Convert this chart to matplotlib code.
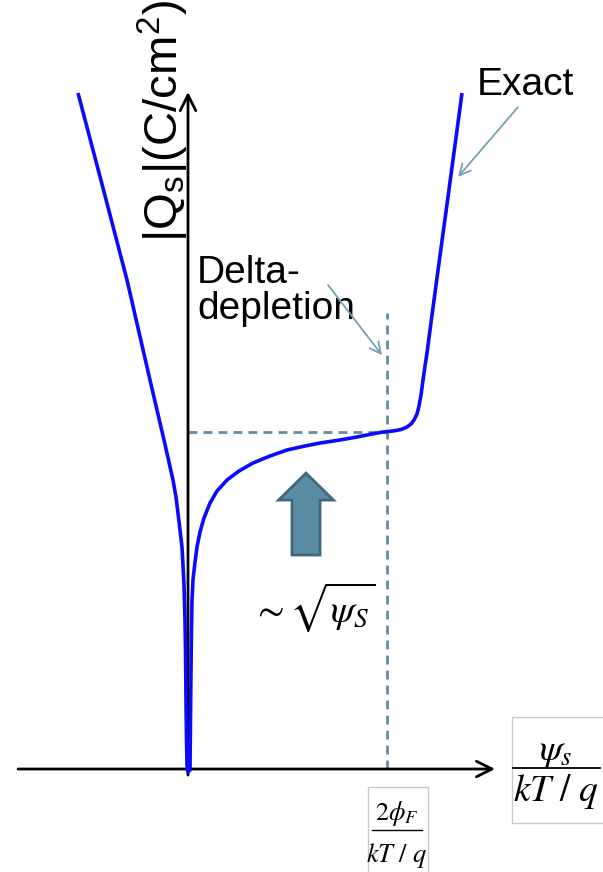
import matplotlib
matplotlib.use("Agg")
import matplotlib.pyplot as plt
from matplotlib.patches import FancyArrow, Rectangle

plt.rcParams['font.family'] = ['Liberation Sans', 'DejaVu Sans']
plt.rcParams['mathtext.fontset'] = 'stix'

# Surface potential in units of 2*phi_F, surface charge in units of the charge at threshold
psi_accum = [-0.5528, -0.4271, -0.3065, -0.1910, -0.1206, -0.0754, -0.0603,
             -0.0503, -0.0402, -0.0302, -0.0251, -0.0201, -0.0151, -0.0126,
             -0.0101, -0.0075, -0.0050, 0.0]
q_accum = [2.0059, 1.7240, 1.4510, 1.1543, 0.9763, 0.8576, 0.8071,
           0.7596, 0.7092, 0.6588, 0.6053, 0.5460, 0.4421, 0.3531,
           0.2047, 0.0861, 0.0119, -0.0089]

psi_inv = [0.0101, 0.0126, 0.0151, 0.0176, 0.0201, 0.0251, 0.0352, 0.0452,
           0.0603, 0.0804, 0.1106, 0.1457, 0.1960, 0.2563, 0.3266, 0.4121,
           0.4975, 0.5879, 0.6633, 0.7638, 0.8492, 0.9246, 0.9799, 1.0302,
           1.0704, 1.1005, 1.1206, 1.1357, 1.1508, 1.1608, 1.1709, 1.1809,
           1.1910, 1.2010, 1.2161, 1.2613, 1.3065, 1.3769]
q_inv = [-0.0030, 0.1454, 0.2938, 0.4125, 0.5015, 0.5608, 0.6142, 0.6588,
         0.7033, 0.7448, 0.7893, 0.8249, 0.8576, 0.8843, 0.9080, 0.9288,
         0.9466, 0.9585, 0.9674, 0.9763, 0.9852, 0.9941, 1.0000, 1.0030,
         1.0074, 1.0148, 1.0237, 1.0356, 1.0534, 1.0772, 1.1098, 1.1543,
         1.1958, 1.2344, 1.3027, 1.5015, 1.6973, 2.0059]

two_phi_f = 1.0      # onset of strong inversion
q_at_threshold = 1.0

curve_color = '#0a0aff'
guide_color = '#5f8fa6'
note_color = '#77a0b3'

fig = plt.figure(figsize=(6.03, 8.72), dpi=100)
ax = fig.add_axes([0, 0, 1, 1])
ax.set_xlim(-0.9447, 2.0854)
ax.set_ylim(-0.3056, 2.2819)
ax.axis('off')

# axes with arrow heads
ax.annotate('', xy=(0, 2.009), xytext=(0, -0.018),
            arrowprops=dict(arrowstyle='->', lw=2.0, color='black',
                            mutation_scale=28, shrinkA=0, shrinkB=0))
ax.annotate('', xy=(1.543, 0), xytext=(-0.854, 0),
            arrowprops=dict(arrowstyle='->', lw=2.0, color='black',
                            mutation_scale=28, shrinkA=0, shrinkB=0))

# delta-depletion guides
ax.plot([0, two_phi_f], [q_at_threshold, q_at_threshold], color=guide_color,
        lw=2.0, linestyle=(0, (3.2, 2.2)), zorder=2)
ax.plot([two_phi_f, two_phi_f], [0, 1.353], color=guide_color,
        lw=2.0, linestyle=(0, (3.2, 2.2)), zorder=2)

# exact charge curve
ax.plot(psi_accum + psi_inv, q_accum + q_inv, color=curve_color, lw=2.6,
        solid_joinstyle='round', solid_capstyle='butt', zorder=3)

# y-axis label
ax.text(-0.050, 1.564, r'|Q$_\mathregular{s}$|(C/cm$^\mathregular{2}$)',
        rotation=90, rotation_mode='anchor', ha='left', va='baseline',
        fontsize=34, color='black')

ax.text(0.045, 1.525, 'Delta-\ndepletion', ha='left', va='top',
        fontsize=28, linespacing=0.98)
ax.text(1.452, 2.0, 'Exact', ha='left', va='baseline', fontsize=28)

ax.annotate('', xy=(0.975, 1.228), xytext=(0.704, 1.436),
            arrowprops=dict(arrowstyle='->', lw=1.3, color=note_color,
                            mutation_scale=20, shrinkA=0, shrinkB=0))
ax.annotate('', xy=(1.357, 1.757), xytext=(1.658, 1.964),
            arrowprops=dict(arrowstyle='->', lw=1.3, color=note_color,
                            mutation_scale=20, shrinkA=0, shrinkB=0))

# block arrow pointing at the sqrt regime
ax.add_patch(FancyArrow(0.593, 0.635, 0, 0.878 - 0.635, width=0.141,
                        head_width=0.276, head_length=0.080,
                        length_includes_head=True, facecolor='#5a8ca3',
                        edgecolor='#42677c', lw=2.0, zorder=4))

ax.text(0.633, 0.436, r'$\sim\sqrt{\psi_S}$', ha='center', va='baseline',
        fontsize=28)

# x-axis label box
ax.add_patch(Rectangle((1.6281, -0.1602), 0.4724, 0.3145, fill=False,
                       edgecolor='#c8c8c8', lw=1.0))
ax.text(1.848, 0.027, r'$\psi_s$', ha='center', va='baseline', fontsize=27)
ax.plot([1.633, 2.070], [0.003, 0.003], color='black', lw=1.3)
ax.text(1.849, -0.095, r'$kT\ /\ q$', ha='center', va='baseline', fontsize=27)

# 2 phi_F label box
ax.add_patch(Rectangle((0.9045, -0.3100), 0.3015, 0.2552, fill=False,
                       edgecolor='#c8c8c8', lw=1.0))
ax.text(1.050, -0.151, r'$2\phi_F$', ha='center', va='baseline', fontsize=19)
ax.plot([0.925, 1.176], [-0.181, -0.181], color='black', lw=1.0)
ax.text(1.050, -0.276, r'$kT\ /\ q$', ha='center', va='baseline', fontsize=19)

fig.savefig('out.png', dpi=100)
